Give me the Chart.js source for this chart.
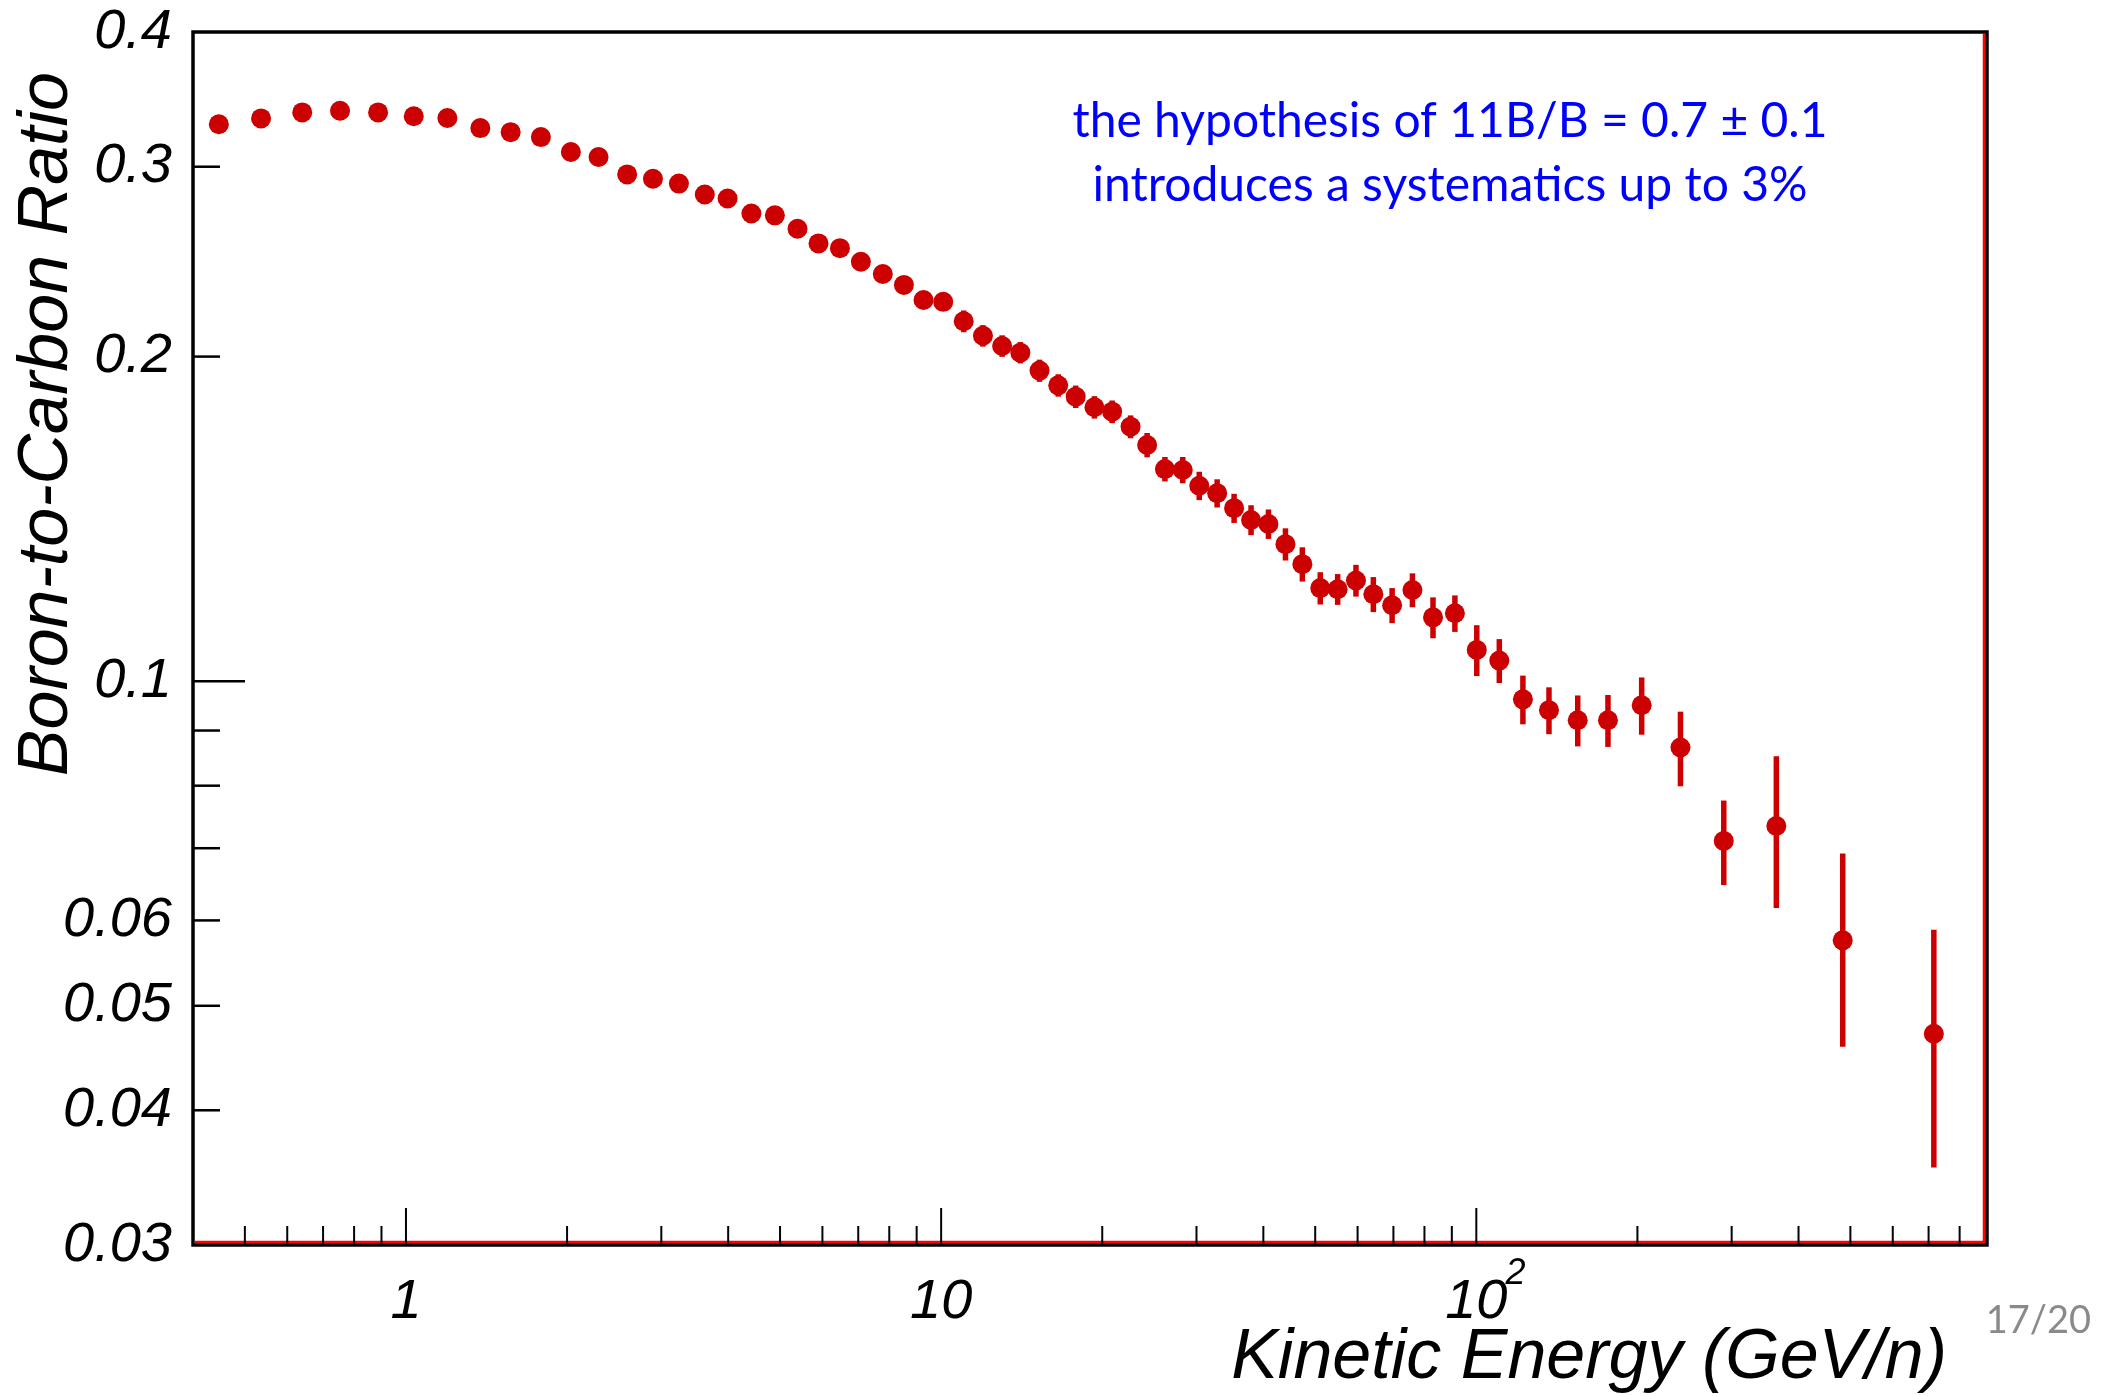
<!DOCTYPE html>
<html>
<head>
<meta charset="utf-8">
<title>Boron-to-Carbon Ratio</title>
<script src="https://cdn.jsdelivr.net/npm/chart.js@4.4.1/dist/chart.umd.min.js"></script>
<style>
    html, body { margin: 0; padding: 0; background: #fff; }
    #wrap { width: 2116px; height: 1396px; }
</style>
</head>
<body>
<div id="wrap"><canvas id="bc" width="2116" height="1396"></canvas></div>
<script>
// B/C ratio vs kinetic energy per nucleon
const energy = [
    0.447, 0.536, 0.640, 0.753, 0.887, 1.034, 1.195, 1.377, 1.569, 1.787,
    2.033, 2.290, 2.590, 2.894, 3.236, 3.617, 3.99, 4.42, 4.89, 5.39,
    5.90, 6.47, 7.08, 7.78, 8.52, 9.27, 10.09, 11.02, 11.97, 13.00,
    14.06, 15.27, 16.55, 17.84, 19.34, 20.87, 22.59, 24.26, 26.19, 28.28,
    30.36, 32.79, 35.27, 37.94, 40.89, 43.99, 47.31, 51.10, 55.07, 59.58,
    64.21, 69.61, 75.97, 83.0, 91.2, 100.2, 110.4, 122.2, 136.7, 154.7,
    176.2, 203.7, 240.7, 290.0, 363.6, 483.8, 716.0
];
const ratio = [
    0.3285, 0.3326, 0.3369, 0.3381, 0.3369, 0.3341, 0.3329, 0.3258, 0.3230, 0.3196,
    0.3096, 0.3063, 0.2951, 0.2924, 0.2894, 0.2827, 0.2803, 0.2715, 0.2704, 0.2628,
    0.2547, 0.2521, 0.2449, 0.2386, 0.2331, 0.2257, 0.2248, 0.2157, 0.2091, 0.2046,
    0.2017, 0.1941, 0.1881, 0.1836, 0.1795, 0.1778, 0.1722, 0.1656, 0.1573, 0.1570,
    0.1518, 0.1494, 0.1447, 0.1411, 0.1399, 0.1340, 0.1284, 0.1220, 0.1217, 0.1240,
    0.1204, 0.1176, 0.1215, 0.1146, 0.1156, 0.1069, 0.1045, 0.0962, 0.0940, 0.0920,
    0.0920, 0.0950, 0.0868, 0.0711, 0.0734, 0.0575, 0.0471
];
const ratioErr = [
    0.003, 0.003, 0.003, 0.003, 0.003, 0.003, 0.003, 0.003, 0.003, 0.003,
    0.003, 0.003, 0.003, 0.003, 0.003, 0.003, 0.003, 0.003, 0.003, 0.003,
    0.003, 0.003, 0.003, 0.003, 0.003, 0.004, 0.004, 0.0050, 0.0048, 0.0047,
    0.0046, 0.0046, 0.0045, 0.0044, 0.0043, 0.0043, 0.0042, 0.0043, 0.0041, 0.0044,
    0.0046, 0.0045, 0.0045, 0.0045, 0.0044, 0.0046, 0.0047, 0.0042, 0.0040, 0.0042,
    0.0045, 0.0044, 0.0044, 0.0050, 0.0045, 0.0058, 0.0049, 0.0050, 0.0047, 0.0050,
    0.0051, 0.0058, 0.0069, 0.0064, 0.0118, 0.0117, 0.0117
];

// axis ticks
const yLabelValues = [0.03, 0.04, 0.05, 0.06, 0.1, 0.2, 0.3, 0.4];
const yLabelText = ['0.03', '0.04', '0.05', '0.06', '0.1', '0.2', '0.3', '0.4'];
const yMajorTicks = [0.1];
const yMinorTicks = [0.04, 0.05, 0.06, 0.07, 0.08, 0.09, 0.2, 0.3];
const xLabelValues = [1, 10, 100];
const xLabelText = ['1', '10', '10'];
const xMajorTicks = [1, 10, 100];
const xMinorTicks = [0.5, 0.6, 0.7, 0.8, 0.9, 2, 3, 4, 5, 6, 7, 8, 9,
    20, 30, 40, 50, 60, 70, 80, 90, 200, 300, 400, 500, 600, 700, 800];

const xTitle = 'Kinetic Energy (GeV/n)';
const yTitle = 'Boron-to-Carbon Ratio';
const noteLines = ['the hypothesis of 11B/B = 0.7 \u00b1 0.1', 'introduces a systematics up to 3%'];
const pageNumber = '17/20';

const AXIS_FONT = '"Liberation Sans", Arial, Helvetica, sans-serif';
const NOTE_FONT = 'Lato, "Open Sans", sans-serif';
const RED = '#cc0000';

const errorBars = {
    id: 'errorBars',
    beforeDatasetsDraw(chart) {
        const { ctx, scales: { x, y } } = chart;
        ctx.save();
        ctx.strokeStyle = RED;
        ctx.lineWidth = 5.5;
        energy.forEach((e, i) => {
            const px = x.getPixelForValue(e);
            ctx.beginPath();
            ctx.moveTo(px, y.getPixelForValue(ratio[i] + ratioErr[i]));
            ctx.lineTo(px, y.getPixelForValue(ratio[i] - ratioErr[i]));
            ctx.stroke();
        });
        ctx.restore();
    }
};

const frame = {
    id: 'frame',
    afterDraw(chart) {
        const { ctx, chartArea: a, scales: { x, y } } = chart;
        ctx.save();

        // red line along bottom and right edge (ROOT style)
        ctx.strokeStyle = '#ff0000';
        ctx.lineWidth = 2.5;
        ctx.beginPath();
        ctx.moveTo(a.left + 2, a.bottom - 3);
        ctx.lineTo(a.right - 3, a.bottom - 3);
        ctx.lineTo(a.right - 3, a.top + 2);
        ctx.stroke();

        // black frame
        ctx.strokeStyle = '#000';
        ctx.lineWidth = 3.5;
        ctx.strokeRect(a.left, a.top, a.right - a.left, a.bottom - a.top);

        // y ticks, pointing inwards
        ctx.lineWidth = 2.5;
        const yTick = (v, len) => {
            const py = y.getPixelForValue(v);
            ctx.beginPath();
            ctx.moveTo(a.left, py);
            ctx.lineTo(a.left + len, py);
            ctx.stroke();
        };
        yMajorTicks.forEach(v => yTick(v, 52));
        yMinorTicks.forEach(v => yTick(v, 27));

        // x ticks, pointing up
        ctx.lineWidth = 2;
        const xTick = (v, len) => {
            const px = x.getPixelForValue(v);
            ctx.beginPath();
            ctx.moveTo(px, a.bottom);
            ctx.lineTo(px, a.bottom - len);
            ctx.stroke();
        };
        xMajorTicks.forEach(v => xTick(v, 37));
        xMinorTicks.forEach(v => xTick(v, 19));

        // superscript for 10^2
        ctx.fillStyle = '#000';
        ctx.font = `italic 56px ${AXIS_FONT}`;
        const w10 = ctx.measureText('10').width;
        ctx.font = `italic 36px ${AXIS_FONT}`;
        ctx.textAlign = 'left';
        ctx.textBaseline = 'alphabetic';
        ctx.fillText('2', x.getPixelForValue(100) + w10 / 2 - 2, a.bottom + 39);

        // axis titles
        ctx.font = `italic 70px ${AXIS_FONT}`;
        ctx.textAlign = 'right';
        ctx.fillText(xTitle, 1947, 1378);
        ctx.save();
        ctx.translate(67, 72);
        ctx.rotate(-Math.PI / 2);
        ctx.fillText(yTitle, 0, 0);
        ctx.restore();

        // annotation
        ctx.fillStyle = '#0000ff';
        ctx.font = `48px ${NOTE_FONT}`;
        ctx.textAlign = 'center';
        ctx.fillText(noteLines[0], 1450, 137);
        ctx.fillText(noteLines[1], 1450, 201);

        // slide number
        ctx.fillStyle = '#8a8a8a';
        ctx.font = `38px ${NOTE_FONT}`;
        ctx.textAlign = 'right';
        ctx.fillText(pageNumber, 2091, 1333);

        ctx.restore();
    }
};

const tickFont = { family: AXIS_FONT, size: 56, style: 'italic', lineHeight: 1 };

new Chart(document.getElementById('bc'), {
    type: 'scatter',
    data: {
        datasets: [{
            data: energy.map((e, i) => ({ x: e, y: ratio[i] })),
            backgroundColor: RED,
            borderWidth: 0,
            pointRadius: 10,
            pointHoverRadius: 10
        }]
    },
    options: {
        responsive: false,
        animation: false,
        devicePixelRatio: 1,
        layout: { padding: { top: 32, right: 129, bottom: 0, left: 0 } },
        plugins: { legend: { display: false }, tooltip: { enabled: false } },
        scales: {
            x: {
                type: 'logarithmic',
                position: 'bottom',
                min: 0.4,
                max: 900,
                grid: { display: false, drawTicks: false },
                border: { display: false },
                afterFit: (s) => {
                    s.height = 151;
                    s.paddingLeft = 0;
                    s.paddingRight = 0;
                },
                afterBuildTicks: (s) => { s.ticks = xLabelValues.map(v => ({ value: v })); },
                ticks: {
                    autoSkip: false,
                    maxRotation: 0,
                    padding: 29,
                    color: '#000',
                    font: tickFont,
                    callback: (v, i) => xLabelText[i]
                }
            },
            y: {
                type: 'logarithmic',
                position: 'left',
                min: 0.03,
                max: 0.4,
                grid: { display: false, drawTicks: false },
                border: { display: false },
                afterFit: (s) => {
                    s.width = 193;
                    s.paddingTop = 0;
                    s.paddingBottom = 0;
                },
                afterBuildTicks: (s) => { s.ticks = yLabelValues.map(v => ({ value: v })); },
                ticks: {
                    autoSkip: false,
                    padding: 21,
                    color: '#000',
                    font: tickFont,
                    callback: (v, i) => yLabelText[i]
                }
            }
        }
    },
    plugins: [errorBars, frame]
});
</script>
</body>
</html>
